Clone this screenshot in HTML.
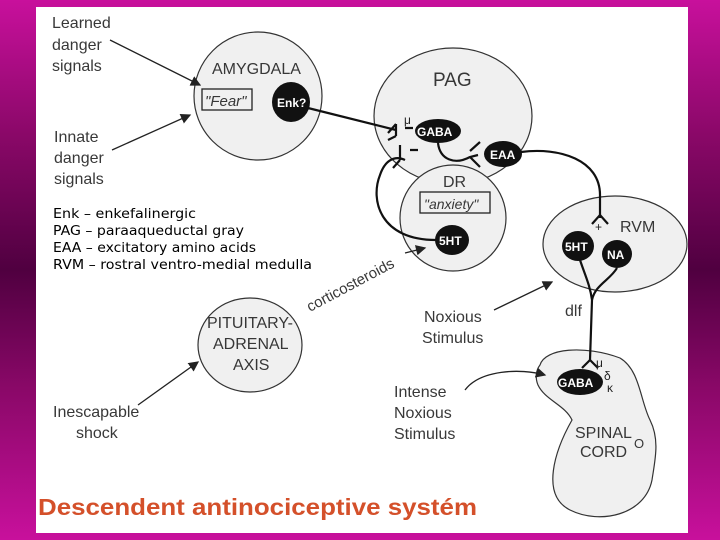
<!DOCTYPE html>
<html><head><style>
html,body{margin:0;padding:0;width:720px;height:540px;overflow:hidden}
body{background:linear-gradient(#c8109c 0%,#8a0868 25%,#500040 50%,#8a0868 72%,#c8109c 100%)}
svg{position:absolute;left:0;top:0}
text{font-family:"Liberation Sans",sans-serif}
</style></head><body>
<svg width="720" height="540" viewBox="0 0 720 540">
<defs><marker id="a" markerWidth="8" markerHeight="8" refX="7" refY="4" orient="auto"><path d="M0,0 L8,4 L0,8 z" fill="#222"/></marker></defs>
<rect x="36" y="7" width="652" height="526" fill="#fff"/>
<g fill="#f0f0f0" stroke="#333" stroke-width="1.2">
<circle cx="258" cy="96" r="64"/>
<ellipse cx="453" cy="116" rx="79" ry="68"/>
<circle cx="453" cy="218" r="53"/>
<ellipse cx="615" cy="244" rx="72" ry="48"/>
<ellipse cx="250" cy="345" rx="52" ry="47"/>
<path d="M540,365 C545,348 585,345 620,358 C640,370 640,400 650,420 C660,440 655,460 652,480 C645,515 600,525 570,510 C540,495 555,450 572,420 C565,405 545,400 538,385 C535,378 536,370 540,365 z"/>
</g>
<g fill="#222" font-size="16" fill-opacity="0.9">
<text x="52" y="28">Learned</text><text x="52" y="50">danger</text><text x="52" y="71">signals</text>
<text x="54" y="142">Innate</text><text x="54" y="163">danger</text><text x="54" y="184">signals</text>
<text x="212" y="74">AMYGDALA</text>
<text x="433" y="86" font-size="19">PAG</text>
<text x="443" y="187">DR</text>
<text x="620" y="232">RVM</text>
<text x="207" y="328">PITUITARY-</text>
<text x="213" y="349">ADRENAL</text><text x="233" y="370">AXIS</text>
<text x="424" y="322">Noxious</text><text x="422" y="343">Stimulus</text>
<text x="565" y="316">dlf</text>
<text x="394" y="397">Intense</text><text x="394" y="418">Noxious</text><text x="394" y="439">Stimulus</text>
<text x="575" y="438">SPINAL</text><text x="580" y="457">CORD</text><text x="634" y="448" font-size="13">O</text>
<text x="53" y="417">Inescapable</text><text x="76" y="438">shock</text>
<text x="310" y="312" font-size="15" transform="rotate(-28 310 312)">corticosteroids</text>
<text x="205" y="106" font-style="italic" font-size="15">"Fear"</text>
<text x="424" y="209" font-style="italic" font-size="14">"anxiety"</text>
</g>
<g fill="none" stroke="#222" stroke-width="1.3">
<rect x="202" y="89" width="50" height="21"/>
<rect x="420" y="192" width="70" height="21"/>
<path d="M110,40 L200,85" marker-end="url(#a)"/>
<path d="M112,150 L190,115" marker-end="url(#a)"/>
<path d="M138,405 L198,362" marker-end="url(#a)"/>
<path d="M405,253 L425,248" marker-end="url(#a)"/>
<path d="M494,310 L552,282" marker-end="url(#a)"/>
<path d="M465,390 C480,370 520,368 545,375" marker-end="url(#a)"/>
</g>
<g fill="#111" stroke="none" font-size="12" font-weight="bold">
<ellipse cx="291" cy="102" rx="19" ry="20"/><text x="277" y="107" fill="#fff">Enk?</text>
<ellipse cx="438" cy="131" rx="23" ry="12"/><text x="417" y="136" fill="#fff">GABA</text>
<ellipse cx="503" cy="154" rx="19" ry="13"/><text x="490" y="159" fill="#fff">EAA</text>
<ellipse cx="452" cy="240" rx="17" ry="15"/><text x="439" y="245" fill="#fff">5HT</text>
<ellipse cx="578" cy="246" rx="16" ry="15"/><text x="565" y="251" fill="#fff">5HT</text>
<ellipse cx="617" cy="254" rx="15" ry="14"/><text x="607" y="259" fill="#fff">NA</text>
<ellipse cx="580" cy="382" rx="23" ry="13"/><text x="558" y="387" fill="#fff">GABA</text>
</g>
<g fill="none" stroke="#111" stroke-width="2.2">
<path d="M308,108 L396,130"/>
<path d="M396,124 L388,133 M396,136 L388,140 M396,124 L396,136"/>
<path d="M405,128 L413,128 M410,150 L418,150"/>
<path d="M438,143 C440,160 455,165 470,157 L478,155"/>
<path d="M470,151 L480,142 M470,157 L480,167"/>
<path d="M521,152 C560,147 600,160 600,195 L600,218"/>
<path d="M592,224 L600,215 L608,224"/>
<path d="M436,240 C380,240 370,200 380,175 C385,160 395,155 405,160"/>
<path d="M400,145 L400,160 M400,160 L393,168"/>
<path d="M580,260 C585,275 590,285 592,300 M617,268 C610,280 595,285 592,300 L590,360"/>
<path d="M582,368 L590,360 L598,368"/>
</g>
<g fill="#222" font-size="12"><text x="404" y="124">μ</text><text x="596" y="367">μ</text><text x="604" y="380">δ</text><text x="607" y="392">κ</text><text x="595" y="231">+</text></g>
<g fill="#000" font-size="13">
<text x="53" y="218" textLength="143" lengthAdjust="spacingAndGlyphs" style="font-family:'DejaVu Sans',sans-serif">Enk – enkefalinergic</text>
<text x="53" y="235" textLength="191" lengthAdjust="spacingAndGlyphs" style="font-family:'DejaVu Sans',sans-serif">PAG – paraaqueductal gray</text>
<text x="53" y="252" textLength="203" lengthAdjust="spacingAndGlyphs" style="font-family:'DejaVu Sans',sans-serif">EAA – excitatory amino acids</text>
<text x="53" y="269" textLength="259" lengthAdjust="spacingAndGlyphs" style="font-family:'DejaVu Sans',sans-serif">RVM – rostral ventro-medial medulla</text>
</g>
<text x="38" y="515" font-size="23" font-weight="bold" fill="#d4502a" textLength="439" lengthAdjust="spacingAndGlyphs">Descendent antinociceptive systém</text>
</svg>
</body></html>
